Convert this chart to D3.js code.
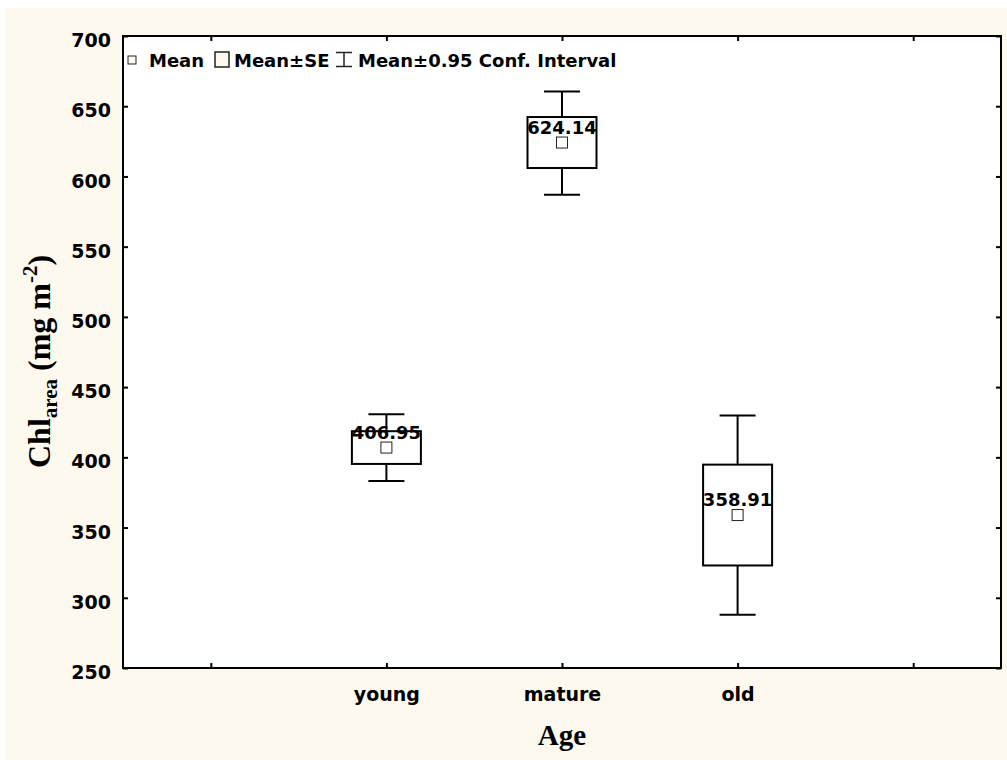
<!DOCTYPE html>
<html>
<head>
<meta charset="utf-8">
<script src="https://cdn.jsdelivr.net/npm/d3@7"></script>
<style>
  html, body { margin: 0; padding: 0; background: #ffffff; }
  svg { display: block; }
  .tick text { font-family: "DejaVu Sans", Verdana, sans-serif; font-weight: bold; fill: #000; }
</style>
</head>
<body>
<svg id="chart" width="1007" height="760"></svg>
<script>
// Chlorophyll per leaf area by leaf age: mean, mean ± SE, mean ± 0.95 confidence interval
const categories = ["young", "mature", "old"];
const means      = [406.95, 624.14, 358.91];
const seLow      = [395.3, 606.0, 323.0];
const seHigh     = [418.6, 642.3, 394.8];
const ciLow      = [383.2, 586.9, 288.0];
const ciHigh     = [430.7, 660.4, 429.8];
const meanLabels = ["406.95", "624.14", "358.91"];

const yTicks = [250, 300, 350, 400, 450, 500, 550, 600, 650, 700];
// five category slots along x; the outer two are empty
const xSlots      = [0, 1, 2, 3, 4];
const xTickLabels = ["", "young", "mature", "old", ""];
const legendLabels = ["Mean", "Mean±SE", "Mean±0.95 Conf. Interval"];

const svg = d3.select("#chart");
const W = 1007, H = 760;
const plot = { left: 123, right: 1001, top: 36, bottom: 668 };
const cream = "#fef9ee";

// page background panel
svg.append("rect").attr("x", 5).attr("y", 8).attr("width", W - 5).attr("height", H - 8).attr("fill", cream);
// plot area
svg.append("rect").attr("x", plot.left).attr("y", plot.top)
  .attr("width", plot.right - plot.left).attr("height", plot.bottom - plot.top).attr("fill", "#fff");

const x = d3.scalePoint().domain(xSlots).range([plot.left, plot.right]).padding(0.5);
const y = d3.scaleLinear().domain([250, 700]).range([plot.bottom, plot.top]);
const xCat = i => x(i + 1);

// axes with inward ticks on all four sides
const gLeft = svg.append("g").attr("transform", `translate(${plot.left},0)`)
  .call(d3.axisLeft(y).tickValues(yTicks).tickSizeInner(-5).tickSizeOuter(0).tickPadding(12));
gLeft.selectAll("text").style("font-size", "19px").attr("dy", "0.56em");

svg.append("g").attr("transform", `translate(${plot.right},0)`)
  .call(d3.axisRight(y).tickValues(yTicks).tickSizeInner(-5).tickSizeOuter(0).tickFormat(""));

const gBottom = svg.append("g").attr("transform", `translate(0,${plot.bottom})`)
  .call(d3.axisBottom(x).tickSizeInner(-5).tickSizeOuter(0).tickPadding(20)
    .tickFormat(i => xTickLabels[i]));
gBottom.selectAll("text").style("font-size", "19px");

svg.append("g").attr("transform", `translate(0,${plot.top})`)
  .call(d3.axisTop(x).tickSizeInner(-5).tickSizeOuter(0).tickFormat(""));

svg.selectAll(".domain").remove();
svg.selectAll(".tick line").attr("stroke", "#000").attr("stroke-width", 2);

// plot border
svg.append("rect").attr("x", plot.left).attr("y", plot.top)
  .attr("width", plot.right - plot.left).attr("height", plot.bottom - plot.top)
  .attr("fill", "none").attr("stroke", "#000").attr("stroke-width", 2);

// box-and-whisker marks
const boxW = 69, capW = 36, markS = 11;
const marks = svg.append("g");
categories.forEach((c, i) => {
  const cx = xCat(i);
  const g = marks.append("g");
  g.append("line").attr("x1", cx).attr("x2", cx).attr("y1", y(ciHigh[i])).attr("y2", y(seHigh[i]))
    .attr("stroke", "#000").attr("stroke-width", 2);
  g.append("line").attr("x1", cx).attr("x2", cx).attr("y1", y(seLow[i])).attr("y2", y(ciLow[i]))
    .attr("stroke", "#000").attr("stroke-width", 2);
  [ciHigh[i], ciLow[i]].forEach(v => {
    g.append("line").attr("x1", cx - capW / 2).attr("x2", cx + capW / 2).attr("y1", y(v)).attr("y2", y(v))
      .attr("stroke", "#000").attr("stroke-width", 2);
  });
  g.append("rect").attr("x", cx - boxW / 2).attr("y", y(seHigh[i]))
    .attr("width", boxW).attr("height", y(seLow[i]) - y(seHigh[i]))
    .attr("fill", "none").attr("stroke", "#000").attr("stroke-width", 2);
  g.append("rect").attr("x", cx - markS / 2).attr("y", y(means[i]) - markS / 2)
    .attr("width", markS).attr("height", markS)
    .attr("fill", "#fff").attr("stroke", "#222").attr("stroke-width", 1);
  g.append("text").attr("x", cx).attr("y", y(means[i]) - 9)
    .attr("text-anchor", "middle")
    .style("font-family", "'DejaVu Sans', Verdana, sans-serif").style("font-weight", "bold")
    .style("font-size", "18px").attr("fill", "#000")
    .text(meanLabels[i]);
});

// legend
const lg = svg.append("g");
const lgFont = g => g.style("font-family", "'DejaVu Sans', Verdana, sans-serif")
  .style("font-weight", "bold").style("font-size", "18px").attr("fill", "#000");
lg.append("rect").attr("x", 128).attr("y", 56).attr("width", 8).attr("height", 8)
  .attr("fill", cream).attr("stroke", "#222").attr("stroke-width", 1);
lg.append("text").attr("x", 149).attr("y", 67).call(lgFont).text(legendLabels[0]);
lg.append("rect").attr("x", 215).attr("y", 52).attr("width", 14).attr("height", 15)
  .attr("fill", cream).attr("stroke", "#222").attr("stroke-width", 1.5);
lg.append("text").attr("x", 234).attr("y", 67).call(lgFont).text(legendLabels[1]);
const wx = 344;
lg.append("path").attr("d", `M${wx - 8},52.5H${wx + 8}M${wx},52.5V66.5M${wx - 8},66.5H${wx + 8}`)
  .attr("fill", "none").attr("stroke", "#222").attr("stroke-width", 1.5);
lg.append("text").attr("x", 358).attr("y", 67).call(lgFont).text(legendLabels[2]);

// axis titles
svg.append("text").attr("x", 562).attr("y", 745).attr("text-anchor", "middle")
  .style("font-family", "'Liberation Serif', 'Times New Roman', serif").style("font-weight", "bold")
  .style("font-size", "29px").attr("fill", "#000").text("Age");

const yt = svg.append("text").attr("transform", "translate(50,468) rotate(-90)")
  .style("font-family", "'Liberation Serif', 'Times New Roman', serif").style("font-weight", "bold")
  .style("font-size", "32px").attr("fill", "#000");
yt.append("tspan").text("Chl");
yt.append("tspan").attr("dy", 7).style("font-size", "21px").text("area");
yt.append("tspan").attr("dy", -7).text(" (mg m");
yt.append("tspan").attr("dy", -13).style("font-size", "21px").text("-2");
yt.append("tspan").attr("dy", 13).text(")");
</script>
</body>
</html>
